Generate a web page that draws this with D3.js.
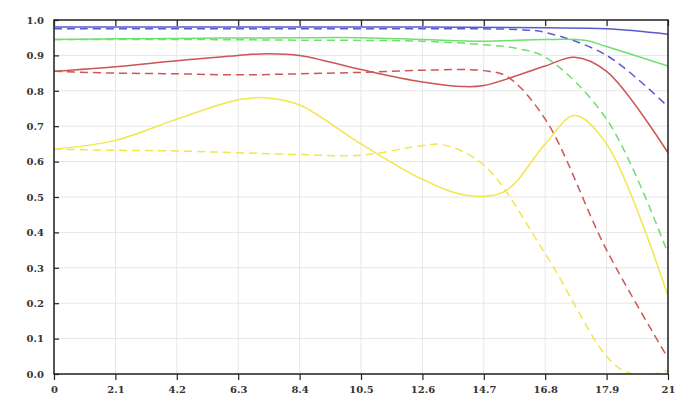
<!DOCTYPE html><html><head><script src="https://cdn.jsdelivr.net/npm/d3@7"></script>
<style>body{margin:0;background:#fff}text{font-family:"DejaVu Serif",serif;font-weight:bold;font-size:10px;fill:#333}</style></head><body><svg id="c" width="699" height="409"></svg><script>
const tickVals=[0,2.1,4.2,6.3,8.4,10.5,12.6,14.7,16.8,18.9,21];
const tickLabels=["0","2.1","4.2","6.3","8.4","10.5","12.6","14.7","16.8","17.9","21"];
const yTicks=[0,0.1,0.2,0.3,0.4,0.5,0.6,0.7,0.8,0.9,1.0];
const blueSolidX=[0,4.2,8.4,12.6,16.8,18.9,21], blueSolidY=[0.98,0.98,0.98,0.98,0.978,0.975,0.96];
const blueDashX=[0,4.2,8.4,12.6,15.8,16.8,18.9,21], blueDashY=[0.975,0.975,0.975,0.975,0.973,0.965,0.9,0.755];
const greenSolidX=[0,4.2,8.4,10.5,12.6,14.7,16.8,18.2,18.9,21], greenSolidY=[0.945,0.948,0.95,0.95,0.945,0.94,0.945,0.942,0.925,0.87];
const greenDashX=[0,4.2,8.4,12.6,14.7,15.8,16.8,18.9,21], greenDashY=[0.945,0.945,0.943,0.94,0.93,0.92,0.895,0.72,0.34];
const redSolidX=[0,2.1,4.2,6.3,7.3,8.4,10.5,12.6,14.0,14.7,16.8,17.8,18.9,21], redSolidY=[0.855,0.868,0.885,0.9,0.905,0.9,0.86,0.825,0.812,0.815,0.87,0.895,0.855,0.625];
const redDashX=[0,2.1,4.2,6.3,8.4,10.5,12.6,14.7,15.5,16.8,18.9,21], redDashY=[0.855,0.85,0.848,0.845,0.848,0.852,0.858,0.857,0.84,0.72,0.35,0.045];
const yellowSolidX=[0,2.1,4.2,6.3,7.3,8.4,10.5,12.6,14.1,15.4,16.8,17.8,18.9,21], yellowSolidY=[0.635,0.66,0.72,0.775,0.78,0.76,0.65,0.55,0.505,0.515,0.65,0.73,0.65,0.22];
const yellowDashX=[0,2.1,4.2,6.3,8.4,10.5,12.6,13.3,14.7,16.8,18.9,19.6,20.5,21], yellowDashY=[0.635,0.632,0.63,0.625,0.62,0.618,0.645,0.648,0.59,0.34,0.05,0.005,0.0,0.01];
const series=[
 [blueSolidX,blueSolidY,"#5a5ad0",null],[blueDashX,blueDashY,"#5a5ad0","8,5"],
 [greenSolidX,greenSolidY,"#6ee06e",null],[greenDashX,greenDashY,"#6ee06e","8,5"],
 [redSolidX,redSolidY,"#cc5555",null],[redDashX,redDashY,"#cc5555","8,5"],
 [yellowSolidX,yellowSolidY,"#f2e64a",null],[yellowDashX,yellowDashY,"#f2e64a","8,5"]];
const svg=d3.select("#c");
const x=d3.scaleLinear().domain([0,21]).range([54,668]);
const y=d3.scaleLinear().domain([0,1]).range([374,20]);
const g=svg.append("g");
g.selectAll(".vg").data(tickVals).join("line").attr("x1",d=>x(d)).attr("x2",d=>x(d)).attr("y1",20).attr("y2",374).attr("stroke","#e6e6e6");
g.selectAll(".hg").data(yTicks).join("line").attr("y1",d=>y(d)).attr("y2",d=>y(d)).attr("x1",54).attr("x2",668).attr("stroke","#e6e6e6");
const line=d3.line().curve(d3.curveCatmullRom.alpha(0.5));
const clip=svg.append("clipPath").attr("id","cp").append("rect").attr("x",54).attr("y",20).attr("width",614).attr("height",354);
series.forEach(([xs,ys,c,dash])=>{
 svg.append("path").attr("clip-path","url(#cp)").attr("d",line(xs.map((v,i)=>[x(v),y(ys[i])]))).attr("fill","none").attr("stroke",c).attr("stroke-width",1.5).attr("stroke-dasharray",dash);
});
svg.append("g").attr("transform","translate(0,374)").call(d3.axisBottom(x).tickValues(tickVals).tickFormat((d,i)=>tickLabels[i]).tickSize(6).tickSizeOuter(0).tickPadding(6));
svg.append("g").attr("transform","translate(0,20)").call(d3.axisBottom(x).tickValues(tickVals).tickFormat("").tickSize(6).tickSizeOuter(0));
svg.append("g").attr("transform","translate(54,0)").call(d3.axisRight(y).tickValues(yTicks).tickFormat("").tickSize(5).tickSizeOuter(0));
svg.append("g").attr("transform","translate(54,0)").call(d3.axisLeft(y).tickValues(yTicks).tickFormat(d3.format(".1f")).tickSize(0).tickPadding(10));
svg.append("rect").attr("x",54).attr("y",20).attr("width",614).attr("height",354).attr("fill","none").attr("stroke","#222").attr("stroke-width",1.5);
svg.selectAll(".domain").remove();
svg.selectAll(".tick line").attr("stroke","#222").attr("stroke-width",1.2);
svg.selectAll(".tick text").style("font-family","DejaVu Serif").style("font-weight","bold").style("font-size","10px").attr("fill","#333");
</script></body></html>
